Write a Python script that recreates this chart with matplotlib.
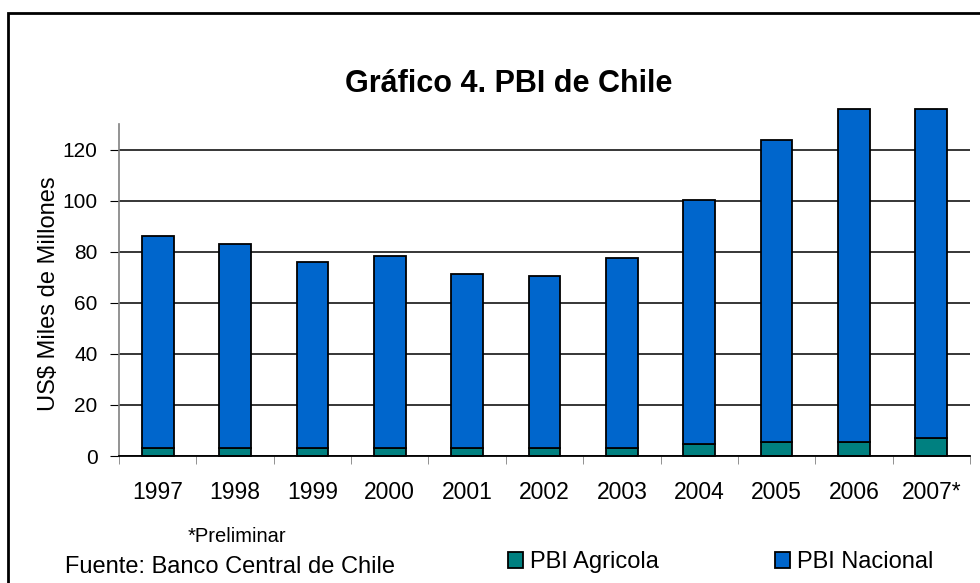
import matplotlib
matplotlib.use("Agg")
import matplotlib.pyplot as plt
from matplotlib.patches import Rectangle, Patch
import numpy as np

plt.rcParams['font.family'] = ['Liberation Sans', 'DejaVu Sans']

# Data (US$ miles de millones)
years = ['1997', '1998', '1999', '2000', '2001', '2002', '2003', '2004', '2005', '2006', '2007*']
pbi_agricola = [3.1, 3.1, 3.1, 3.1, 3.1, 3.1, 3.1, 4.7, 5.4, 5.4, 6.9]
pbi_total = [86.2, 83.1, 76.0, 78.4, 71.4, 70.6, 77.6, 100.4, 123.9, 136.0, 136.0]
pbi_nacional = [t - a for t, a in zip(pbi_total, pbi_agricola)]  # stacked segment

col_agri = '#008080'
col_nac = '#0066CC'

fig = plt.figure(figsize=(9.8, 5.83), dpi=100)
ax = fig.add_axes([119 / 980, 1 - 456 / 583, (970 - 119) / 980, (456 - 124) / 583])

x = np.arange(len(years))
w = 0.41
ax.bar(x, pbi_agricola, w, color=col_agri, edgecolor='black', linewidth=1.3, clip_on=False, zorder=3)
ax.bar(x, pbi_nacional, w, bottom=pbi_agricola, color=col_nac, edgecolor='black',
       linewidth=1.3, clip_on=False, zorder=3)

ax.set_xlim(-0.5, len(years) - 0.5)
ax.set_ylim(0, 130)
ax.set_yticks(range(0, 121, 20))
ax.yaxis.grid(True, color='black', linewidth=1.1)
ax.set_axisbelow(True)

ax.set_xticks(x)
ax.set_xticklabels(years, fontsize=16.5)
ax.set_xticks(np.arange(-0.5, len(years)), minor=True)
ax.tick_params(axis='x', which='major', length=0, pad=18)
ax.tick_params(axis='x', which='minor', length=6, color='#808080', direction='out')
ax.tick_params(axis='y', labelsize=15, length=6.5, pad=9, color='black')

for s in ['top', 'right']:
    ax.spines[s].set_visible(False)
ax.spines['left'].set_color('#808080')
ax.spines['left'].set_linewidth(1.2)
ax.spines['bottom'].set_color('black')
ax.spines['bottom'].set_linewidth(1.3)
ax.spines['bottom'].set_zorder(4)

ax.set_ylabel('US$ Miles de Millones', fontsize=17)
ax.yaxis.set_label_coords(-0.069, 0.49)

fig.text(509 / 980, 1 - 92 / 583, 'Gráfico 4. PBI de Chile', fontsize=22, fontweight='bold',
         ha='center', va='baseline')
fig.text(188 / 980, 1 - 542 / 583, '*Preliminar', fontsize=14.5, ha='left', va='baseline')
fig.text(65 / 980, 1 - 573 / 583, 'Fuente: Banco Central de Chile', fontsize=17, ha='left', va='baseline')

handles = [Patch(facecolor=col_agri, edgecolor='black', linewidth=1.3),
           Patch(facecolor=col_nac, edgecolor='black', linewidth=1.3)]
fig.legend(handles, ['PBI Agricola', 'PBI Nacional'], ncol=2, frameon=False, fontsize=17,
           handlelength=0.64, handleheight=0.64, handletextpad=0.3, columnspacing=4.9,
           borderpad=0, borderaxespad=0,
           loc='center left', bbox_to_anchor=(508 / 980, 1 - 562 / 583))

# outer chart frame
fig.patches.append(Rectangle((8 / 980, -0.05), 1.1, 1 - 13 / 583 + 0.05, transform=fig.transFigure,
                             fill=False, edgecolor='black', linewidth=2))

fig.savefig('out.png', dpi=100)
